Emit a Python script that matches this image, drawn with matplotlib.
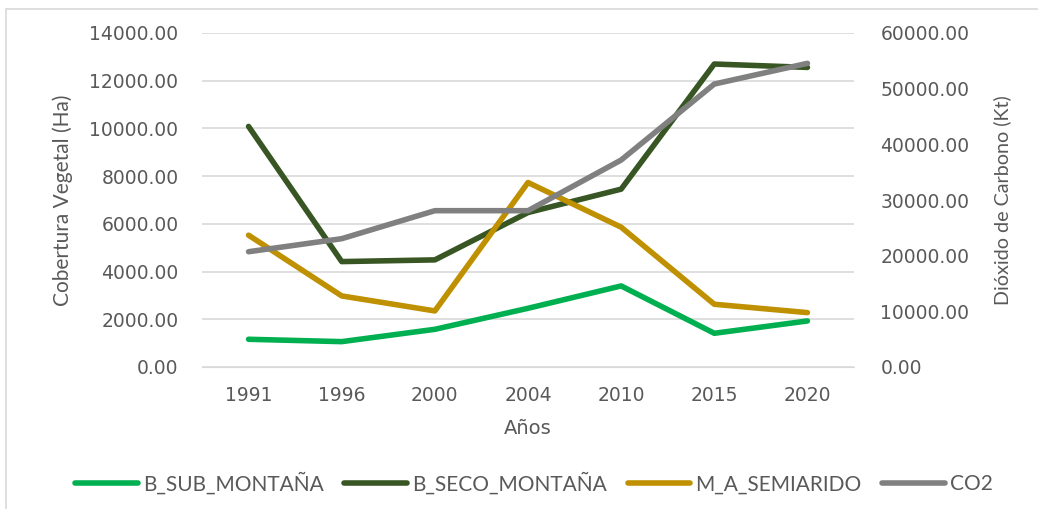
import matplotlib
matplotlib.use("Agg")
import matplotlib.pyplot as plt
from matplotlib import font_manager
from matplotlib.patches import Rectangle
import numpy as np

years = ["1991", "1996", "2000", "2004", "2010", "2015", "2020"]
b_sub_montana = [1162, 1063, 1580, 2461, 3398, 1413, 1930]
b_seco_montana = [10083, 4418, 4490, 6475, 7455, 12700, 12558]
m_a_semiarido = [5525, 2979, 2350, 7733, 5861, 2630, 2280]
co2 = [20710, 23050, 28080, 28080, 37180, 50830, 54550]


def pick_font(names):
    for n in names:
        try:
            font_manager.findfont(n, fallback_to_default=False)
            return n
        except Exception:
            pass
    return "DejaVu Sans"


tick_font = "DejaVu Sans"
narrow = pick_font(["Liberation Sans Narrow", "Lato", "Roboto"])
label_font = [narrow, "DejaVu Sans"]
txt = "#595959"

fig = plt.figure(figsize=(10.38, 5.09), dpi=100)
ax = fig.add_axes([202/1038, 1-367/509, 652/1038, 334/509])
ax2 = ax.twinx()

x = np.arange(len(years))
lw = 4
ax.plot(x, b_sub_montana, color="#00b050", lw=lw, solid_capstyle="round", label="B_SUB_MONTAÑA", zorder=3)
ax.plot(x, b_seco_montana, color="#375623", lw=lw, solid_capstyle="round", label="B_SECO_MONTAÑA", zorder=3)
ax.plot(x, m_a_semiarido, color="#bf9000", lw=lw, solid_capstyle="round", label="M_A_SEMIARIDO", zorder=3)
ax2.plot(x, co2, color="#808080", lw=lw, solid_capstyle="round", label="CO2")

ax.set_xlim(-0.5, 6.5)
ax.set_ylim(0, 14000)
ax2.set_ylim(0, 60000)
ax.set_yticks(np.arange(0, 14001, 2000))
ax2.set_yticks(np.arange(0, 60001, 10000))
ax.set_xticks(x)
ax.set_xticklabels(years)
ax.yaxis.set_major_formatter(matplotlib.ticker.FormatStrFormatter("%.2f"))
ax2.yaxis.set_major_formatter(matplotlib.ticker.FormatStrFormatter("%.2f"))
ax.grid(axis="y", color="#d9d9d9", lw=1.2)
ax.set_axisbelow(True)

for a in (ax, ax2):
    for s in a.spines.values():
        s.set_visible(False)
    a.tick_params(length=0, labelsize=13.5, labelcolor=txt)
    for lab in a.get_xticklabels() + a.get_yticklabels():
        lab.set_fontfamily(tick_font)
ax.tick_params(axis="y", pad=17)
ax2.tick_params(axis="y", pad=19)
ax.tick_params(axis="x", pad=14)
ax.spines["bottom"].set_visible(True)
ax.spines["bottom"].set_color("#d9d9d9")

ax.set_ylabel("Cobertura Vegetal (Ha)", fontsize=15, color=txt, family=label_font, labelpad=12)
ax2.set_ylabel("Dióxido de Carbono (Kt)", fontsize=14.2, color=txt, family=label_font, labelpad=17)
ax.set_xlabel("Años", fontsize=14, color=txt, family=tick_font, labelpad=10)

h1, l1 = ax.get_legend_handles_labels()
h2, l2 = ax2.get_legend_handles_labels()
fig.legend(h1 + h2, l1 + l2, loc="center", bbox_to_anchor=(534/1038, 1-483/509), ncol=4,
           frameon=False, prop={"family": label_font, "size": 15}, labelcolor=txt,
           handlelength=3.0, handletextpad=0.25, columnspacing=1.0)

fig.patches.append(Rectangle((6/1038, -0.1), 1.2, 1-9/509+0.1, transform=fig.transFigure,
                             fill=False, edgecolor="#d9d9d9", lw=1.2))

fig.savefig("out.png", dpi=100)
